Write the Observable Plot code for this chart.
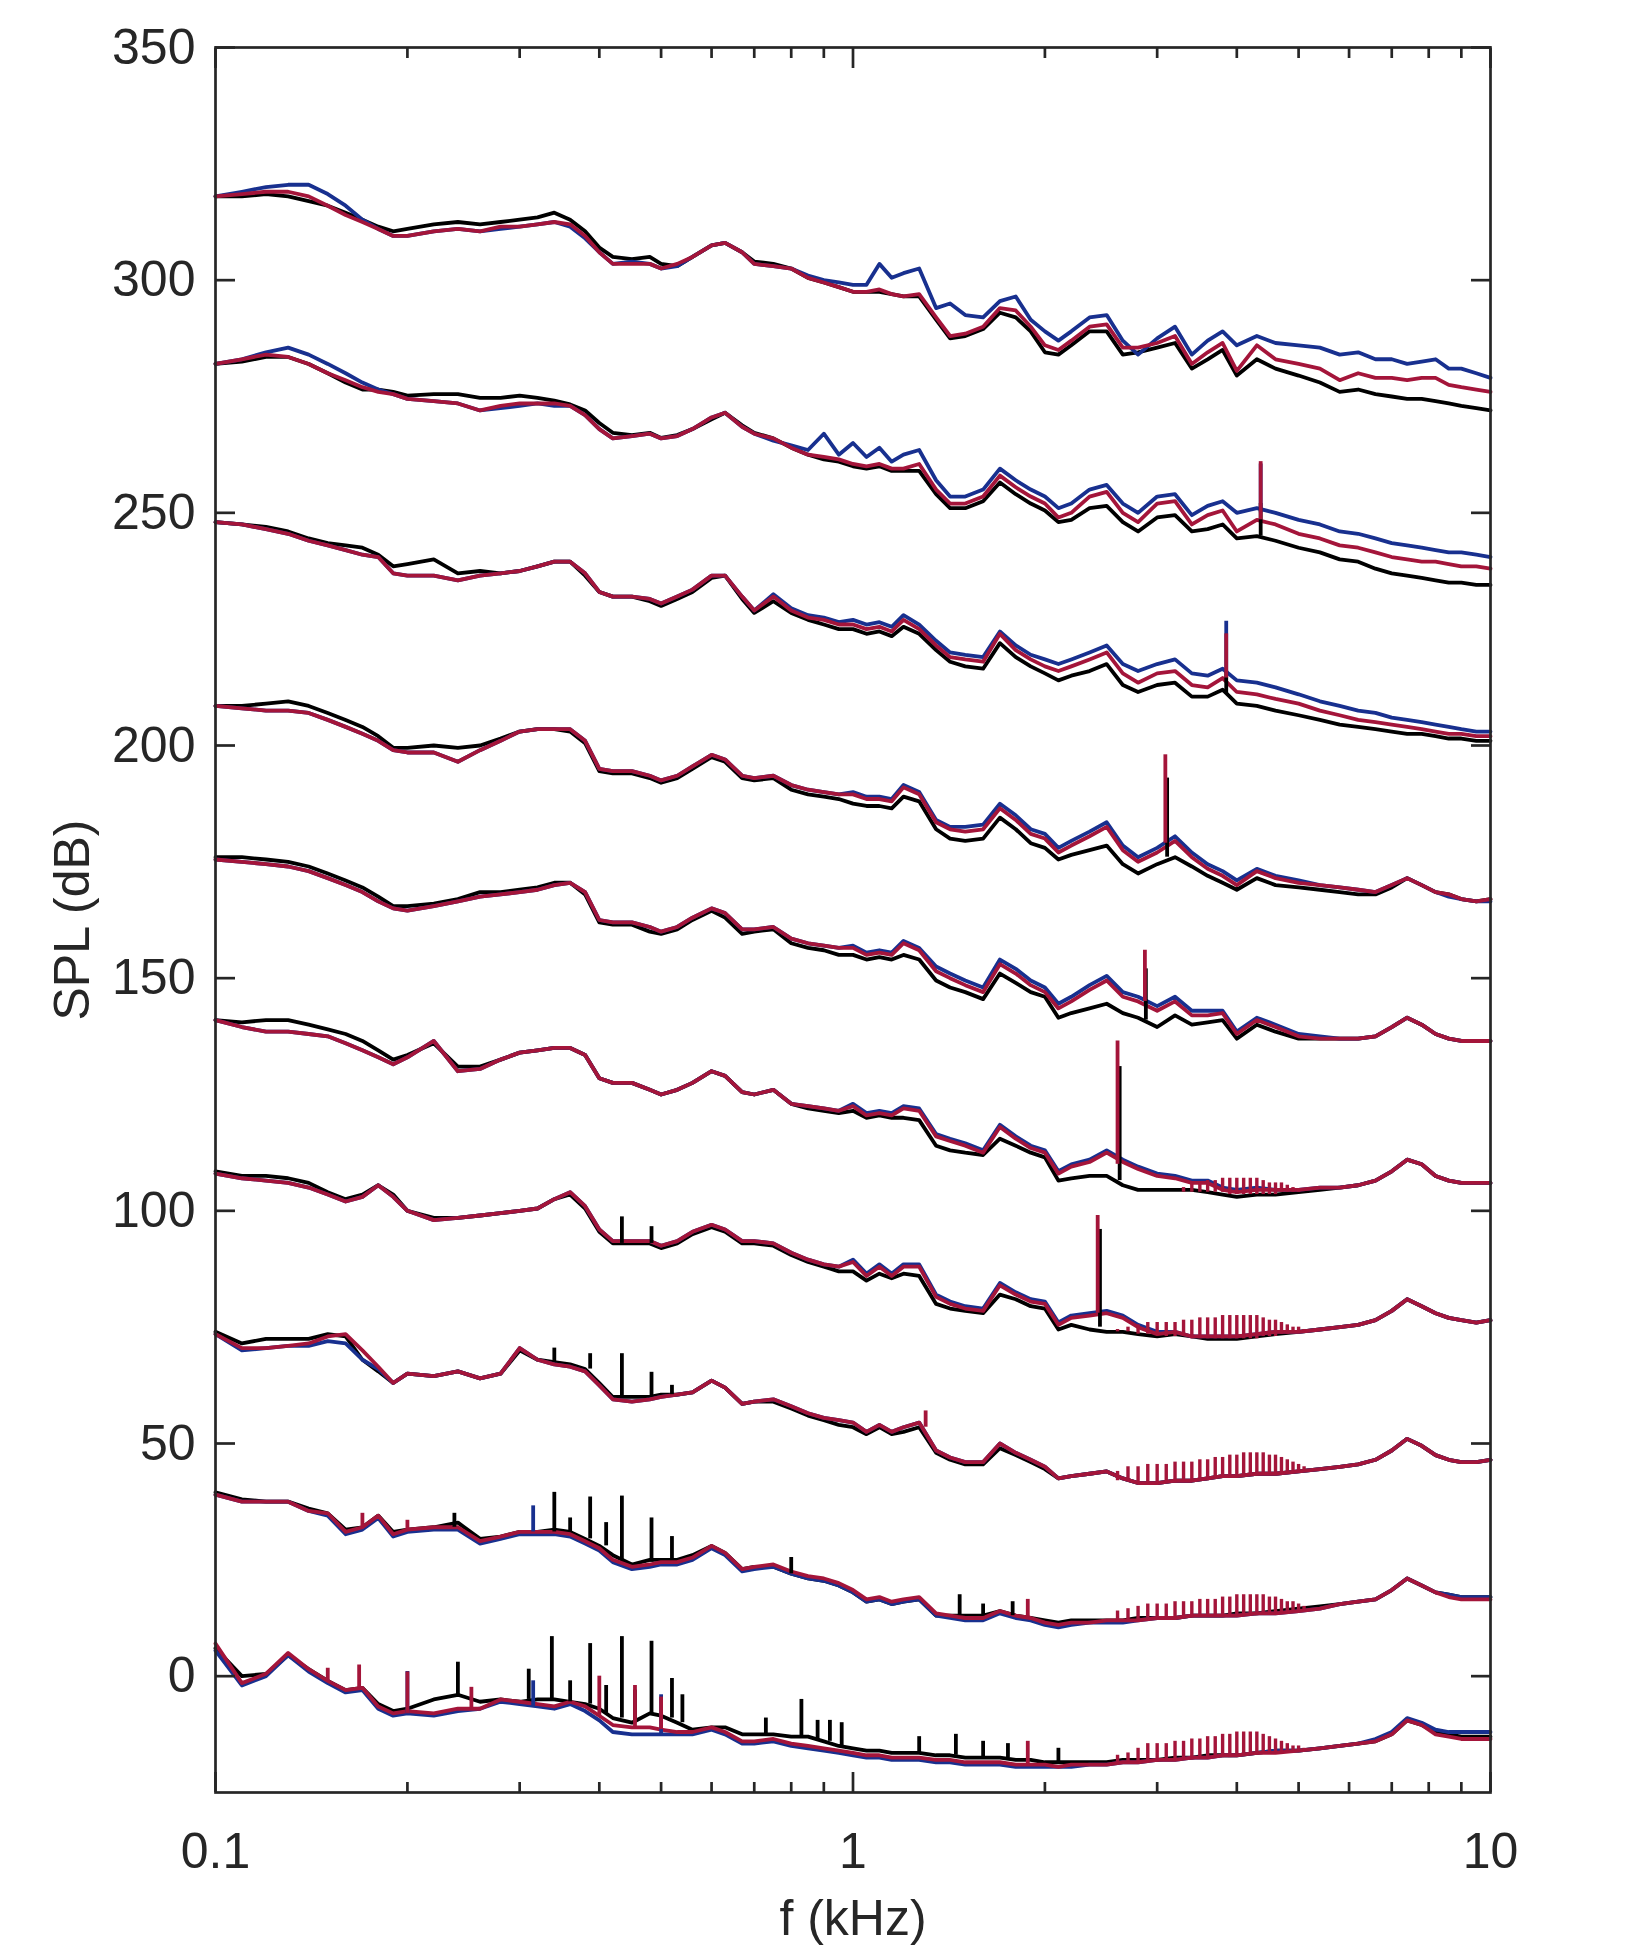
<!DOCTYPE html>
<html><head><meta charset="utf-8">
<script src="https://cdn.jsdelivr.net/npm/d3@7"></script>
<script src="https://cdn.jsdelivr.net/npm/@observablehq/plot@0.6"></script>
<style>body{margin:0;background:#fff}</style>
</head><body><div id="chart"></div>
<script>
// Frequency grid (kHz)
const freq = [0.10,0.11,0.12,0.13,0.14,0.15,0.16,0.17,0.18,0.19,
 0.20,0.22,0.24,0.26,0.28,0.30,0.32,0.34,0.36,0.38,
 0.40,0.42,0.45,0.48,0.50,0.53,0.56,0.60,0.63,0.67,
 0.70,0.75,0.80,0.85,0.90,0.95,1.0,1.05,1.1,1.15,
 1.2,1.27,1.35,1.42,1.5,1.6,1.7,1.8,1.9,2.0,
 2.1,2.2,2.35,2.5,2.65,2.8,3.0,3.2,3.4,3.6,
 3.8,4.0,4.3,4.6,5.0,5.4,5.8,6.2,6.6,7.0,
 7.4,7.8,8.2,8.6,9.0,9.5,10];

// Group 10 (top)
const black10 = [318,318,318.5,318,317,316,314.5,313,311.5,310.5,
 311,312,312.5,312,312.5,313,313.5,314.5,313,310.5,
 307,305,304.5,305,303.5,303,305,307.5,308,306,
 304,303.5,302.5,300.5,299.5,298.5,297.5,297.5,297.5,297,
 296.5,296.5,291.5,287.5,288,289.5,293,292,289,284.5,
 284,286,289,289,284,284.5,285.5,286.5,281,283,
 285,279.5,283,281,279.5,278,276,276.5,275.5,275,
 274.5,274.5,274,273.5,273,272.5,272];
const blue10 = [318,319,320,320.5,320.5,318.5,316,313,311,309.5,
 309.5,310.5,311,310.5,311,311.5,312,312.5,311.5,309,
 306,303.5,304,303.5,302.5,303,305,307.5,308,306,
 303.5,303,302.5,301,300,299.5,299,299,303.5,300.5,
 301.5,302.5,294,295,292.5,292,295.5,296.5,291.5,289,
 287,289,292,292.5,287,284,287.5,290,284,287,
 289,286,288,286.5,286,285.5,284,284.5,283,283,
 282,282.5,283,281,281,280,279];
const red10 = [318,318.5,319,319,318,316,314,312.5,311,309.5,
 309.5,310.5,311,310.5,311.5,311.5,312,312.5,312,309.5,
 306,303.5,303.5,303.5,302.5,303.5,305,307.5,308,306,
 303.5,303,302.5,300.5,299.5,298.5,297.5,297.5,298,297,
 296.5,297,292,288,288.5,290,294,293.5,290,286,
 285,287,290,290.5,285.5,285.5,286.5,288,282,284.5,
 286.5,280.5,286,283,282,281,278.5,280,279,279,
 278.5,279,279,277.5,277,276.5,276];

// Group 9
const black9 = [282,282.5,283.5,283.5,282,280,278,276.5,276.5,276,
 275.2,275.5,275.5,274.7,274.7,275.2,274.7,274.1,273.3,272,
 269.3,267.2,266.7,267.2,266.1,266.7,268,270.1,271.5,268.8,
 267.2,266,264,262.5,261.5,261,260,259.5,260,259,
 259,259,254,251,251,252.5,256.5,254,252,250.5,
 248,248.5,251,251.5,248,246,249,249.5,246,246.5,
 247.5,244.5,245,244,242.5,241.5,240,239.5,238,237,
 236.5,236,235.5,235,235,234.5,234.5];
const blue9 = [282,283,284.5,285.5,284,282,280,278,276.5,275.5,
 274.5,274,273.5,272,272.5,273,273.5,273,273,271,
 268,266,266.5,267,266,266.5,268,270.5,271.5,268.5,
 267,265.5,264.5,263.5,267,262.5,265,262,264,261,
 262.5,263.5,257,253.5,253.5,255,259.5,257,255,253.5,
 251,252,255,256,252,250,253.5,254,249.5,251.5,
 252.5,250,251,250,248.5,247.5,246,245.5,244.5,243.5,
 243,242.5,242,241.5,241.5,241,240.5];
const red9 = [282,283,284,283.5,282,280,278.5,277,276,275.5,
 274.5,274,273.5,272,273,273.5,273.5,273.5,273,271,
 268,266,266.5,267,266,266.5,268,270.5,271.5,268.5,
 267,266,264,262.5,262,261.5,260.5,260,260.5,259.5,
 259.5,260.5,255,252,252,253.5,258,255.5,253.5,252,
 249,250,253.5,254.5,250,248,252,252.5,247.5,249.5,
 250.5,246,248.5,247.5,245.5,244.5,243,242.5,241.5,240.5,
 240,239.5,239.5,239,238.5,238.5,238];

// Group 8
const black8 = [248,247.5,247,246,244.5,243.5,243,242.5,241,238.5,
 239,240,237,237.5,237,237.5,238.5,239.5,239.5,236.5,
 233,232,232,231,230,231.5,233,236,236.5,231.5,
 228.5,231,228.5,227,226,225,225,224,224.5,223.5,
 225.5,224,220.5,218,217,216.5,222,219,217,215.5,
 214,215,216,217.5,213,211.5,213,213.5,210.5,210.5,
 212,209,208.5,207.5,206.5,205.5,204.5,204,203.5,203,
 202.5,202.5,202,201.5,201.5,201,201];
const blue8 = [248,247.5,246.5,245.5,244,243,242,241,240.5,237,
 236.5,236.5,235.5,236.5,237,237.5,238.5,239.5,239.5,237,
 233,232,232,231.5,230.5,232,233.5,236.5,236.5,232,
 229,232.5,229.5,228,227.5,226.5,227,226,226.5,225.5,
 228,226,222.5,220,219.5,219,224.5,221.5,219.5,218.5,
 217.5,218.5,220,221.5,217.5,216,217.5,218.5,215.5,215,
 216.5,214,213.5,212.5,211,209.5,208.5,207.5,207,206,
 205.5,205,204.5,204,203.5,203,203];
const red8 = [248,247.5,246.5,245.5,244,243,242,241,240.5,237,
 236.5,236.5,235.5,236.5,237,237.5,238.5,239.5,239.5,237,
 233,232,232,231.5,230.5,232,233.5,236.5,236.5,232,
 229,232,229,227.5,227,226,226,225,225.5,224.5,
 227,225,221.5,219,218.5,218,224,220.5,218.5,217,
 216,217,218.5,220,215.5,213.5,215.5,216,213,212.5,
 214.5,211.5,211,210,209,207.5,206.5,205.5,205,204.5,
 204,203.5,203,202.5,202.5,202,202];

// Group 7
const black7 = [208.5,208.5,209,209.5,208.5,207,205.5,204,202,199.5,
 199.5,200,199.5,200,201.5,203,203.5,203.5,203,200.5,
 194.5,194,194,193,192,193,195,197.5,196.5,193,
 192.5,193,190.5,189.5,189,188.5,187.5,187,187,186.5,
 189,188,182,180,179.5,180,184.5,182,179,178,
 175.5,176.5,177.5,178.5,174.5,172.5,174.5,176,174,172,
 170.5,169,171.5,170,169.5,169,168.5,168,168,169.5,
 171.5,170,168.5,168,167,166.5,167];
const blue7 = [208.5,208,207.5,207.5,207,205.5,204,202.5,201,199,
 198.5,198.5,196.5,199,201,203,203.5,203.5,203.5,201,
 195,194.5,194.5,193.5,192.5,193.5,195.5,198,197,193.5,
 193,193.5,191.5,190.5,190,189.5,190,189,189,188.5,
 191.5,190,184,182.5,182.5,183,187.5,185,182,181,
 178,179.5,181.5,183.5,178.5,176,178,180.5,177,174.5,
 173,171,173.5,172,171,170,169.5,169,168.5,170,
 171.5,170,168.5,167.5,167,166.5,166.5];
const red7 = [208.5,208,207.5,207.5,207,205.5,204,202.5,201,199,
 198.5,198.5,196.5,199,201,203,203.5,203.5,203.5,201,
 195,194.5,194.5,193.5,192.5,193.5,195.5,198,197,193.5,
 193,193.5,191.5,190.5,190,189.5,189.5,188.5,188.5,188,
 191,189.5,183.5,182,181.5,182,186.5,184,181,180,
 177,178.5,180.5,182.5,177.5,175,177,179.5,176,173.5,
 172,170,173,171.5,170.5,170,169.5,169,168.5,170,
 171.5,170,168.5,168,167,166.5,167];

// Group 6
const black6 = [176,176,175.5,175,174,172.5,171,169.5,167.5,165.5,
 165.5,166,167,168.5,168.5,169,169.5,170.5,170.5,168,
 162,161.5,161.5,160,159.5,160.5,162.5,164.5,163,159.5,
 160,160.5,157.5,156.5,156,155,155,154,154.5,154,
 155,154,149.5,148,147,145.5,151,149,147,146,
 141.5,142.5,143.5,144.5,142.5,141.5,139.5,142,140,140.5,
 141,137,140,138.5,137,137,137,137,137.5,139.5,
 141.5,140,138,137,136.5,136.5,136.5];
const blue6 = [175.5,175,174.5,174,173,171.5,170,168.5,166.5,165,
 164.5,165.5,166.5,167.5,168,168.5,169,170,170.5,168.5,
 162.5,162,162,161,160,161,163,165,164,160.5,
 160.5,161,158.5,157.5,157,156.5,157,155.5,156,155.5,
 158,156.5,152.5,151,149.5,148,154,152,149.5,148,
 144.5,146,148.5,150.5,147,146,144,146,143,143,
 143,138.5,141.5,140,138,137.5,137,137,137.5,139.5,
 141.5,140,138,137,136.5,136.5,136.5];
const red6 = [175.5,175,174.5,174,173,171.5,170,168.5,166.5,165,
 164.5,165.5,166.5,167.5,168,168.5,169,170,170.5,168.5,
 162.5,162,162,161,160,161,163,165,164,160.5,
 160.5,161,158.5,157.5,157,156.5,156.5,155,155.5,155,
 157.5,156,151.5,150,148.5,147,153,151,148.5,147,
 143.5,145,147.5,149.5,146,145,143,145,142,142,
 142.5,138,141,139.5,137.5,137,137,137,137.5,139.5,
 141.5,140,138,137,136.5,136.5,136.5];

// Group 5
const black5 = [141,140.5,141,141,140,139,138,136.5,134.5,132.5,
 133.5,136,131,131,132.5,134,134.5,135,135,133.5,
 128.5,127.5,127.5,126,125,126,127.5,130,129,125.5,
 125,126,123,122,121.5,121,121.5,120,120.5,120,
 120,119.5,114,113,112.5,112,115.5,114,112.5,111.5,
 106.5,107,107.5,107.5,105.5,104.5,104.5,104.5,104.5,104,
 103.5,103,103.5,103.5,104,104.5,105,105.5,106.5,108.5,
 111,110,107.5,106.5,106,106,106];
const blue5 = [141,139.5,138.5,138.5,138,137.5,136,134.5,133,131.5,
 133,136.5,130,130.5,132.5,134,134.5,135,135,133.5,
 128.5,127.5,127.5,126,125,126,127.5,130,129,125.5,
 125,126,123,122.5,122,121.5,123,121,121.5,121,
 122.5,122,116.5,115.5,114.5,113,118.5,116,114,113,
 108.5,110,111,113,111,109.5,108,107.5,106.5,106.5,
 105,104.5,105,104.5,104.5,105,105,105.5,106.5,108.5,
 111,110,107.5,106.5,106,106,106];
const red5 = [141,139.5,138.5,138.5,138,137.5,136,134.5,133,131.5,
 133,136.5,130,130.5,132.5,134,134.5,135,135,133.5,
 128.5,127.5,127.5,126,125,126,127.5,130,129,125.5,
 125,126,123,122.5,122,121.5,122.5,120.5,121,120.5,
 122,121.5,116,115,114,112.5,118,115.5,113.5,112.5,
 108,109.5,110.5,112.5,110.5,109,107.5,107,106,106,
 104.5,104,104.5,104.5,104.5,105,105,105.5,106.5,108.5,
 111,110,107.5,106.5,106,106,106];

// Group 4
const black4 = [108.5,107.5,107.5,107,106,104,102.5,103.5,105.5,103.5,
 100,98.5,98.5,99,99.5,100,100.5,102.5,103.5,100.5,
 95.5,93,93,93,92,93,95,96.5,95.5,93,
 93,92.5,90.5,89,88,87,87,85,86.5,85.5,
 86.5,86,80,79,78.5,78,82,81,79.5,79,
 74.5,75.5,74.5,74,74,73.5,73,73.5,73,72.5,
 72.5,72.5,73,73.5,74,74.5,75,75.5,76.5,78.5,
 81,79.5,78,77,76.5,76,76.5];
const blue4 = [108,107,106.5,106,105,103.5,102,103,105.5,103,
 100,98,98.5,99,99.5,100,100.5,102.5,104,101,
 96,93.5,93.5,93.5,92.5,93.5,95.5,97,96,93.5,
 93.5,93,91,89.5,88.5,88,89.5,86.5,88.5,86.5,
 88.5,88.5,82,80.5,79.5,79,84.5,82.5,81,80.5,
 76,77.5,78,78.5,77.5,75.5,74,74,73,73,
 73,73,73.5,74,74,74.5,75,75.5,76.5,78.5,
 81,79.5,78,77,76.5,76,76.5];
const red4 = [108,107,106.5,106,105,103.5,102,103,105.5,103,
 100,98,98.5,99,99.5,100,100.5,102.5,104,101,
 96,93.5,93.5,93.5,92.5,93.5,95.5,97,96,93.5,
 93.5,93,91,89.5,88.5,88,89,86,88,86,
 88,88,81.5,80,79,78.5,84,82,80.5,80,
 75.5,77,77.5,78,77,75,73.5,74,73,73,
 73,73,73.5,74,74,74.5,75,75.5,76.5,78.5,
 81,79.5,78,77,76.5,76,76.5];

// Group 3
const black3 = [74,71.5,72.5,72.5,72.5,73.5,73,68,65.5,63,
 65,64.5,65.5,64,65,70,68,67.5,67,66,
 63,60,60,60,60.5,60.5,61,63.5,62,58.5,
 59,59,57.5,56,55,54,53.5,52,53.5,52,
 52.5,53.5,48,46.5,45.5,45.5,49,47.5,46,44.5,
 42.5,43,43.5,44,42.5,41.5,41.5,42,42,42.5,
 43,43,43.5,43.5,44,44.5,45,45.5,46.5,48.5,
 51,49.5,47.5,46.5,46,46,46.5];
const blue3 = [73.5,70,70.5,71,71,72,71.5,68,66,63,
 65,64.5,65.5,64,65,70.5,68,67,66.5,65.5,
 62.5,59.5,59,59.5,60,60.5,61,63.5,62,58.5,
 59,59.5,58,56.5,55.5,55,54.5,52.5,54,52.5,
 53.5,54.5,48.5,47,46,46,50,48,46.5,45,
 42.5,43,43.5,44,42.5,41.5,41.5,42,42,42.5,
 43,43,43.5,43.5,44,44.5,45,45.5,46.5,48.5,
 51,49.5,47.5,46.5,46,46,46.5];
const red3 = [73.5,70.5,70.5,71,71.5,73,73.5,70,66.5,63,
 65,64.5,65.5,64,65,70.5,68,67,66.5,65.5,
 62.5,59.5,59,59.5,60,60.5,61,63.5,62,58.5,
 59,59.5,58,56.5,55.5,55,54.5,52.5,54,52.5,
 53.5,54.5,48.5,47,46,46,50,48,46.5,45,
 42.5,43,43.5,44,42.5,41.5,41.5,42,42,42.5,
 43,43,43.5,43.5,44,44.5,45,45.5,46.5,48.5,
 51,49.5,47.5,46.5,46,46,46.5];

// Group 2
const black2 = [39.5,38,37.5,37.5,36,35,31.5,32,34.5,31,
 31.5,32,33,29.5,30,31,31,31.5,31,29.5,
 28,26,24,25,25,25,26,28,26.5,23,
 23.5,23.5,22,21,20.5,19.5,18,16,16.5,15.5,
 16,16.5,13,13,13,13,14,13,12.5,12,
 11.5,12,12,12,12,12.5,12.5,12.5,13,13,
 13,13.5,13.5,14,14.5,15,15.5,16,16.5,18.5,
 21,19.5,18,17.5,17,17,17];
const blue2 = [39,37.5,37.5,37.5,35.5,34.5,30.5,31.5,34,30,
 31,31.5,31.5,28.5,29.5,30.5,30.5,30.5,30,28.5,
 27,24.5,23,23.5,24,24,25,27.5,26,22.5,
 23,23.5,22,21,20.5,19.5,18,16,16.5,15.5,
 16,16.5,13,12.5,12,12,13.5,12.5,12,11,
 10.5,11,11.5,11.5,11.5,12,12.5,12.5,13,13,
 13,13,13.5,13.5,14,14.5,15.5,16,16.5,18.5,
 21,19.5,18,17.5,17,17,17];
const red2 = [39,37.5,37.5,37.5,35.5,35,31,32,34.5,30.5,
 31.5,32,32,29,30,31,31,31,30.5,29,
 27.5,25,23.5,24,24.5,24.5,25.5,28,26.5,23,
 23.5,24,22.5,21.5,21,20,18.5,16.5,17,16,
 16.5,17,13.5,13,12.5,12.5,14,13,12.5,11.5,
 11,11.5,11.5,12,12,12,12.5,12.5,13,13,
 13,13,13.5,13.5,14,14.5,15.5,16,16.5,18.5,
 21,19.5,18,17,16.5,16.5,16.5];

// Group 1 (bottom)
const black1 = [6,0,0.5,4.5,1.5,-1,-3,-2.5,-6,-7.5,
 -7,-5,-4,-5.5,-5,-5.5,-5,-5,-5.5,-6,
 -7,-9,-10,-8,-8.5,-10,-11.5,-11,-11,-12.5,
 -12.5,-12.5,-13,-13,-14,-15,-15.5,-16,-16,-16.5,
 -16.5,-16.5,-17,-17,-17.5,-17.5,-17.5,-18,-18,-18.5,
 -18.5,-18.5,-18.5,-18.5,-18,-18,-18,-17.5,-17.5,-17,
 -17,-17,-16.5,-16,-16,-15.5,-15,-14.5,-14,-12.5,
 -9.5,-10.5,-12,-12.5,-13,-13,-13];
const blue1 = [5.5,-2,0,4.5,1,-1.5,-3.5,-3,-7,-8.5,
 -8,-8.5,-7.5,-7,-5.5,-6,-6.5,-7,-6,-7.5,
 -9.5,-12,-12.5,-12.5,-12.5,-12.5,-12.5,-11.5,-12.5,-14.5,
 -14.5,-14,-15,-15.5,-16,-16.5,-17,-17.5,-17.5,-18,
 -18,-18,-18.5,-18.5,-19,-19,-19,-19.5,-19.5,-19.5,
 -19.5,-19.5,-19,-19,-18.5,-18.5,-18,-18,-17.5,-17.5,
 -17,-17,-16.5,-16,-16,-15.5,-15,-14.5,-13.5,-12,
 -9,-10,-11.5,-12,-12,-12,-12];
const red1 = [7,-1.5,0.5,5,1.5,-1,-3,-2.5,-6.5,-8,
 -7.5,-8,-7,-7,-5,-5.5,-6,-6.5,-5.5,-6.5,
 -8.5,-10.5,-11,-11,-11.5,-12,-12,-11,-12,-14,
 -14,-13.5,-14.5,-15,-15.5,-16,-16.5,-17,-17,-17.5,
 -17.5,-17.5,-18,-18,-18.5,-18.5,-18.5,-19,-19,-19,
 -19.5,-19,-19,-19,-18.5,-18.5,-18,-18,-17.5,-17.5,
 -17,-17,-16.5,-16.5,-16,-15.5,-15,-14.5,-14,-12.5,
 -9.5,-10.5,-12.5,-13,-13.5,-13.5,-13.5];

// Narrow tonal peaks (kHz, base dB, top dB)
const blackSpikeF = [4.36,3.85,3.11,2.88,2.62,2.44, 0.434,0.483, 0.34,0.387,0.434,0.483,0.52,
 0.237,0.34,0.36,0.387,0.41,0.434,0.483,0.52,0.8,1.47,1.6,1.78,
 0.24,0.31,0.337,0.36,0.387,0.41,0.434,0.455,0.483,0.52,0.54,0.73,0.83,0.88,0.92,0.96,1.27,1.45,1.6,1.75,2.1];
const blackSpikeLo = [245,211,176,141,106.5,75, 93,93, 67.5,66,60,60,60.5,
 32,31,31,29.5,28,25,24.5,25,22,13,13,13,
 -4,-5,-5,-5.5,-6,-8,-9,-10,-8,-9,-10,-12.5,-13,-13.5,-14,-15,-16.5,-17,-17.5,-17.5,-18.5];
const blackSpikeHi = [252,216,193,152,131,96, 98.7,96.6, 70.5,69.3,69.3,65.3,62.5,
 35,39.5,34,38.5,33,38.7,34,30,25.5,17.5,15.5,16,
 3,1.5,8.5,-1,7,-2,8.5,-3,7.5,-0.5,-4,-9,-5,-9.5,-9.5,-10,-13,-12.5,-14,-14.5,-15.5];
const blueSpikeF = [4.36,3.85,0.315,0.2,0.315,0.50];
const blueSpikeLo = [250,215.5,31,-8,-6.5,-12.5];
const blueSpikeHi = [260.5,226.7,36.6,1,-1,-4];
const redSpikeF = [4.36,3.85,3.09,2.87,2.6,2.42,1.30,0.17,0.2,1.88,0.15,0.168,0.2,0.252,0.40,0.455,0.50,1.88];
const redSpikeLo = [248.5,214.5,179,145,110,78,53.5,32,31.5,12.5,-1,-2.5,-8,-7,-8.5,-11,-11.5,-19];
const redSpikeHi = [261,224,198,156,136.5,99,57,35,33.5,16.5,1.7,2.4,0.9,-2.4,0,-2,-4.5,-14];

// Harmonic comb (kHz) in the lower five spectra
const combF = [2.6,2.7,2.8,2.9,3.0,3.1,3.2,3.3,3.4,3.5,3.6,3.7,3.8,3.9,4.0,4.1,4.2,4.3,4.4,4.5,4.6,4.7,4.8,4.9,5.0,5.1];
const combBase1 = [-18.5,-18.5,-18.5,-18.5,-18.5,-18,-18,-18,-18,-17.5,-17.5,-17.5,-17.5,-17.5,-17,-17,-17,-17,-16.5,-16.5,-16.5,-16.5,-16.5,-16,-16,-16];
const combTop1 = [-17,-16.5,-15.5,-14.5,-14.5,-14.5,-14,-14,-13.5,-13.5,-13,-13,-12.5,-12.5,-12,-12,-12,-12,-12.5,-13,-13.5,-14,-14.5,-15,-15,-15.5];
const combBase2 = [12,12,12,12.5,12.5,12.5,12.5,12.5,12.5,13,13,13,13,13,13,13,13,13,13.5,13.5,13.5,13.5,13.5,14,14,14];
const combTop2 = [14,14.5,15,15.5,15.5,15.5,16,16,16,16.5,16.5,16.5,17,17,17.5,17.5,17.5,17.5,17.5,17,17,16.5,16,16,15.5,15];
const combBase3 = [42,42,41.5,41.5,41.5,41.5,41.5,42,42,42,42,42.5,42.5,42.5,43,43,43,43,43.5,43.5,43.5,43.5,43.5,44,44,44];
const combTop3 = [44,45,45,45.5,45.5,45.5,46,46,46,46.5,46.5,47,47,47.5,47.5,48,48,48,48,47.5,47.5,47,46.5,46,45.5,45];
const combBase4 = [74,74,73.5,73.5,73.5,73,73,73,72.5,72.5,72.5,72.5,72.5,72.5,72.5,72.5,72.5,72.5,73,73,73,73.5,73.5,74,74,74];
const combTop4 = [74.5,75,75.5,76,76,76,76,76.5,76.5,77,77,77,77.5,77.5,77.5,77.5,77.5,77.5,77,76.5,76.5,76,75.5,75,75,74.5];
const combBase5 = [105.5,105,105,104.5,104.5,104.5,104.5,104,104,104,104,104,104,103.5,103.5,103.5,103.5,103.5,103.5,103.5,103.5,104,104,104,104,104];
const combTop5 = [105.5,105,105,104.5,104.5,104.5,104.5,105,106,106,106.5,106.5,107,107,107,107,107,107,106.5,106,106,106,105.5,105,104.5,104];

// Axis ticks
const yTicks = [0,50,100,150,200,250,300,350];
const xMajor = [0.1,1,10];
const xMinor = [0.2,0.3,0.4,0.5,0.6,0.7,0.8,0.9,2,3,4,5,6,7,8,9];

const BLACK = "#000000", BLUE = "#18308f", RED = "#a4153a", AXIS = "#262626";

const blacks = [black1,black2,black3,black4,black5,black6,black7,black8,black9,black10];
const blues  = [blue1,blue2,blue3,blue4,blue5,blue6,blue7,blue8,blue9,blue10];
const reds   = [red1,red2,red3,red4,red5,red6,red7,red8,red9,red10];

const bad = [];
[["black",blacks],["blue",blues],["red",reds]].forEach(([n,arrs]) => arrs.forEach((a,i) => { if (a.length !== freq.length) bad.push(n+(i+1)+":"+a.length); }));
if (bad.length) throw new Error("length mismatch " + bad.join(", "));

function toRows(arrs) {
  const out = [];
  arrs.forEach((a, g) => a.forEach((v, i) => out.push({f: freq[i], v, g})));
  return out;
}
function spikeRows(F, lo, hi) { return F.map((f, i) => ({f, lo: lo[i], hi: hi[i]})); }
const combRows = [];
[[combBase1,combTop1],[combBase2,combTop2],[combBase3,combTop3],[combBase4,combTop4],[combBase5,combTop5]]
  .forEach(([b,t]) => combF.forEach((f,i) => combRows.push({f, lo: b[i], hi: t[i]})));

const LW = 3.8;
const chart = Plot.plot({
  width: 1650, height: 1947,
  marginLeft: 215, marginRight: 160, marginTop: 47, marginBottom: 155,
  x: {type: "log", domain: [0.1, 10]},
  y: {domain: [-25, 350]},
  style: {fontFamily: "'Liberation Sans', Arial, sans-serif", fontSize: "50px", color: AXIS, background: "#fff", overflow: "visible"},
  marks: [
    Plot.line(toRows(blacks), {x: "f", y: "v", z: "g", stroke: BLACK, strokeWidth: LW}),
    Plot.line(toRows(blues), {x: "f", y: "v", z: "g", stroke: BLUE, strokeWidth: LW}),
    Plot.line(toRows(reds), {x: "f", y: "v", z: "g", stroke: RED, strokeWidth: LW}),
    Plot.ruleX(spikeRows(blackSpikeF, blackSpikeLo, blackSpikeHi), {x: "f", y1: "lo", y2: "hi", stroke: BLACK, strokeWidth: LW}),
    Plot.ruleX(spikeRows(blueSpikeF, blueSpikeLo, blueSpikeHi), {x: "f", y1: "lo", y2: "hi", stroke: BLUE, strokeWidth: LW}),
    Plot.ruleX(spikeRows(redSpikeF, redSpikeLo, redSpikeHi), {x: "f", y1: "lo", y2: "hi", stroke: RED, strokeWidth: LW}),
    Plot.ruleX(combRows, {x: "f", y1: "lo", y2: "hi", stroke: RED, strokeWidth: 3.4}),
    Plot.frame({stroke: AXIS, strokeWidth: 2.7}),
    // inward ticks
    Plot.axisY(yTicks, {anchor: "left", tickSize: -20, tickFormat: () => "", label: null, strokeWidth: 2.7}),
    Plot.axisY(yTicks, {anchor: "right", tickSize: -20, tickFormat: () => "", label: null, strokeWidth: 2.7}),
    Plot.axisX(xMajor, {anchor: "bottom", tickSize: -20, tickFormat: () => "", label: null, strokeWidth: 2.7}),
    Plot.axisX(xMinor, {anchor: "bottom", tickSize: -10, tickFormat: () => "", label: null, strokeWidth: 2.7}),
    Plot.axisX(xMajor, {anchor: "top", tickSize: -20, tickFormat: () => "", label: null, strokeWidth: 2.7}),
    Plot.axisX(xMinor, {anchor: "top", tickSize: -10, tickFormat: () => "", label: null, strokeWidth: 2.7}),
    // tick labels
    Plot.axisY(yTicks, {anchor: "left", tickSize: 0, tickPadding: 20, label: null, fontSize: 50, tickFormat: d => String(d)}),
    Plot.axisX(xMajor, {anchor: "bottom", tickSize: 0, tickPadding: 40, label: null, fontSize: 50, tickFormat: d => String(d)}),
    // axis titles
    Plot.text(["f (kHz)"], {frameAnchor: "bottom", dy: 126, fontSize: 50, fill: AXIS, textAnchor: "middle", lineAnchor: "middle"}),
    Plot.text(["SPL (dB)"], {frameAnchor: "left", dx: -143, rotate: -90, fontSize: 50, fill: AXIS, textAnchor: "middle", lineAnchor: "middle"})
  ]
});
document.getElementById("chart").append(chart);
</script>
</body></html>
